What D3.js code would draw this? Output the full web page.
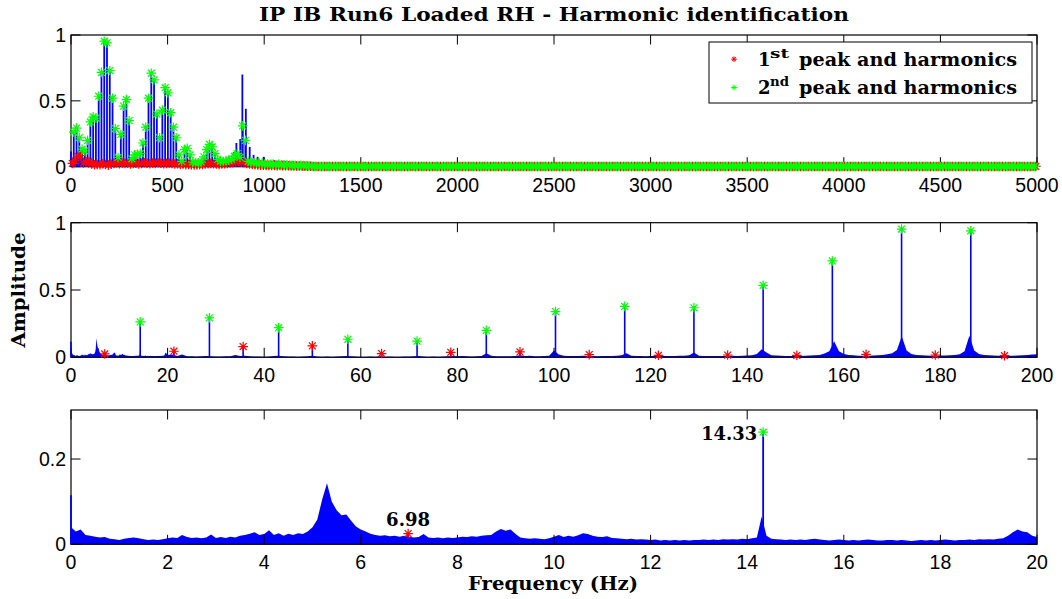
<!DOCTYPE html>
<meta charset="utf-8">
<script src="https://d3js.org/d3.v7.min.js"></script>
<style>
body { margin: 0; background: #fff; }
</style>
<div id="chart"></div>
<script>
// ---------------- data ----------------
const chartTitle = "IP IB Run6 Loaded RH - Harmonic identification";
const firstPeak = 6.98;    // Hz
const secondPeak = 14.33;  // Hz, also the spacing of both families
const maxFreq = 5000;

// 2nd peak and harmonics: n * 14.33 Hz, n = 1..87 (up to ~1250 Hz)
const secondAmp = [
  0.263, 0.293, 0.22, 0.134, 0.12, 0.2, 0.34, 0.378, 0.368, 0.535, 0.716, 0.953, 0.94, 0.73, 0.52, 0.29, 0.07, 0.245, 0.46, 0.51,
  0.35, 0.06, 0.09, 0.095, 0.1, 0.18, 0.3, 0.52, 0.71, 0.66, 0.4, 0.22, 0.43, 0.6, 0.56, 0.41, 0.3, 0.22, 0.09, 0.04,
  0.13, 0.14, 0.09, 0.035, 0.03, 0.03, 0.035, 0.075, 0.13, 0.17, 0.15, 0.1, 0.055, 0.04, 0.04, 0.045, 0.05, 0.055, 0.08, 0.1,
  0.07, 0.31, 0.2, 0.04, 0.035, 0.03, 0.03, 0.025, 0.025, 0.02, 0.02, 0.018, 0.02, 0.015, 0.018, 0.015, 0.012, 0.015, 0.012, 0.01,
  0.01, 0.008, 0.01, 0.008, 0.006, 0.006, 0.005
];
// 1st peak and harmonics: 6.98 + n * 14.33 Hz, n = 0..86
const firstAmp = [
  0.025, 0.045, 0.08, 0.085, 0.028, 0.037, 0.04, 0.02, 0.015, 0.017, 0.015, 0.022, 0.017, 0.012,
  0.02, 0.025, 0.03, 0.022, 0.028, 0.025, 0.03, 0.02, 0.024, 0.028, 0.02, 0.025, 0.03, 0.026, 0.022, 0.028,
  0.025, 0.03, 0.027, 0.022, 0.025, 0.028, 0.024, 0.02, 0.022, 0.018, 0.02, 0.016, 0.018, 0.015, 0.014, 0.016,
  0.015, 0.018, 0.02, 0.022, 0.025, 0.022, 0.02, 0.018, 0.02, 0.022, 0.025, 0.028, 0.03, 0.035, 0.038, 0.035,
  0.03, 0.025, 0.02, 0.018, 0.015, 0.014, 0.012, 0.012, 0.01, 0.01, 0.009, 0.01, 0.008, 0.009, 0.008, 0.007,
  0.007, 0.006, 0.006, 0.005, 0.005, 0.004, 0.004, 0.003, 0.003
];
// every identified harmonic above ~1250 Hz lies on the zero line
const tailAmp = 0.002;

// spectrum noise floor, 0..20 Hz every 0.1 Hz
const floorLowStep = 0.1;
const floorLow = [
  0.04, 0.03, 0.035, 0.022, 0.02, 0.018, 0.016, 0.017, 0.013, 0.012,
  0.01, 0.013, 0.015, 0.016, 0.014, 0.012, 0.01, 0.011, 0.01, 0.012,
  0.014, 0.016, 0.015, 0.022, 0.017, 0.015, 0.016, 0.014, 0.016, 0.023,
  0.015, 0.017, 0.015, 0.018, 0.016, 0.02, 0.022, 0.025, 0.028, 0.022,
  0.024, 0.033, 0.022, 0.026, 0.02, 0.025, 0.022, 0.026, 0.024, 0.03,
  0.04, 0.058, 0.105, 0.143, 0.1, 0.08, 0.068, 0.07, 0.055, 0.042,
  0.035, 0.03, 0.025, 0.022, 0.02, 0.021, 0.019, 0.02, 0.018, 0.02,
  0.018, 0.016, 0.017, 0.024, 0.016, 0.015, 0.016, 0.014, 0.016, 0.015,
  0.016, 0.018, 0.017, 0.019, 0.018, 0.02, 0.021, 0.022, 0.03, 0.036,
  0.032, 0.035, 0.025, 0.016, 0.014, 0.013, 0.014, 0.013, 0.012, 0.014,
  0.018, 0.022, 0.017, 0.02, 0.018, 0.021, 0.026, 0.024, 0.02, 0.018,
  0.017, 0.019, 0.015, 0.014, 0.013, 0.012, 0.013, 0.011, 0.012, 0.011,
  0.01, 0.011, 0.009, 0.01, 0.009, 0.01, 0.009, 0.01, 0.009, 0.01,
  0.01, 0.011, 0.01, 0.011, 0.01, 0.012, 0.011, 0.012, 0.011, 0.013,
  0.012, 0.014, 0.016, 0.065, 0.02, 0.013, 0.012, 0.011, 0.01, 0.011,
  0.01, 0.011, 0.01, 0.012, 0.013, 0.011, 0.01, 0.009, 0.01, 0.011,
  0.01, 0.009, 0.01, 0.009, 0.01, 0.011, 0.01, 0.009, 0.009, 0.01,
  0.01, 0.009, 0.01, 0.009, 0.008, 0.009, 0.01, 0.009, 0.01, 0.009,
  0.01, 0.011, 0.01, 0.009, 0.01, 0.01, 0.011, 0.01, 0.012, 0.011,
  0.012, 0.011, 0.013, 0.014, 0.02, 0.028, 0.035, 0.03, 0.028, 0.02,
  0.017
];
// noise floor 21..200 Hz every 1 Hz
const floorMidStart = 21;
const floorMid = [
  0.02, 0.01, 0.02, 0.008, 0.007, 0.006, 0.007, 0.01, 0.007, 0.006,
  0.006, 0.007, 0.008, 0.017, 0.01, 0.012, 0.007, 0.006, 0.006, 0.005,
  0.006, 0.01, 0.012, 0.008, 0.006, 0.006, 0.005, 0.006, 0.007, 0.012,
  0.006, 0.005, 0.006, 0.005, 0.006, 0.007, 0.01, 0.008, 0.006, 0.005,
  0.005, 0.006, 0.005, 0.008, 0.005, 0.006, 0.005, 0.005, 0.006, 0.006,
  0.008, 0.01, 0.006, 0.005, 0.006, 0.005, 0.006, 0.007, 0.01, 0.008,
  0.01, 0.007, 0.006, 0.007, 0.01, 0.03, 0.012, 0.008, 0.007, 0.007,
  0.008, 0.01, 0.015, 0.01, 0.012, 0.008, 0.008, 0.01, 0.012, 0.05,
  0.02, 0.012, 0.01, 0.009, 0.01, 0.012, 0.01, 0.009, 0.008, 0.01,
  0.009, 0.01, 0.012, 0.016, 0.03, 0.012, 0.01, 0.009, 0.008, 0.009,
  0.01, 0.009, 0.009, 0.01, 0.01, 0.011, 0.012, 0.016, 0.035, 0.012,
  0.01, 0.009, 0.009, 0.01, 0.01, 0.012, 0.011, 0.01, 0.012, 0.013,
  0.015, 0.025, 0.06, 0.035, 0.016, 0.013, 0.012, 0.01, 0.01, 0.011,
  0.01, 0.012, 0.013, 0.015, 0.018, 0.028, 0.045, 0.12, 0.045, 0.025,
  0.018, 0.015, 0.012, 0.011, 0.012, 0.014, 0.016, 0.018, 0.022, 0.03,
  0.055, 0.157, 0.05, 0.025, 0.018, 0.016, 0.014, 0.012, 0.012, 0.013,
  0.014, 0.016, 0.018, 0.022, 0.045, 0.16, 0.05, 0.025, 0.018, 0.016,
  0.014, 0.012, 0.012, 0.011, 0.012, 0.014, 0.016, 0.018, 0.02, 0.022
];
// noise floor 210..1250 Hz every 10 Hz
const floorHighStart = 210, floorHighStep = 10;
const floorHigh = [
  0.012, 0.01, 0.014, 0.012, 0.01, 0.013, 0.011, 0.012, 0.01, 0.014,
  0.012, 0.011, 0.013, 0.01, 0.012, 0.014, 0.011, 0.012, 0.01, 0.013,
  0.012, 0.01, 0.011, 0.013, 0.012, 0.01, 0.011, 0.012, 0.01, 0.011,
  0.012, 0.01, 0.011, 0.009, 0.01, 0.012, 0.011, 0.01, 0.009, 0.011,
  0.01, 0.012, 0.011, 0.01, 0.012, 0.013, 0.011, 0.012, 0.01, 0.011,
  0.012, 0.014, 0.016, 0.015, 0.018, 0.02, 0.016, 0.018, 0.015, 0.013,
  0.012, 0.014, 0.015, 0.016, 0.015, 0.018, 0.016, 0.02, 0.022, 0.02,
  0.018, 0.016, 0.014, 0.015, 0.013, 0.012, 0.014, 0.012, 0.013, 0.011,
  0.01, 0.012, 0.01, 0.009, 0.011, 0.01, 0.009, 0.01, 0.008, 0.009,
  0.008, 0.009, 0.008, 0.007, 0.008, 0.007, 0.006, 0.007, 0.006, 0.006,
  0.005, 0.006, 0.005, 0.004, 0.004
];
// other spectral lines without a marker [Hz, amplitude]
const otherPeaks = [
  [0, 0.115], [818, 0.076], [842, 0.11], [856, 0.18], [876, 0.21], [887, 0.70], [905, 0.44],
  [925, 0.15], [945, 0.09], [966, 0.075], [997, 0.075], [1050, 0.05], [1064, 0.04],
  [1100, 0.045], [1185, 0.03], [1230, 0.02]
];

// axis ticks
const xTicksTop = [0, 500, 1000, 1500, 2000, 2500, 3000, 3500, 4000, 4500, 5000];
const xTicksMid = [0, 20, 40, 60, 80, 100, 120, 140, 160, 180, 200];
const xTicksLow = [0, 2, 4, 6, 8, 10, 12, 14, 16, 18, 20];
const yTicksFull = [0, 0.5, 1];
const yTicksLow = [0, 0.2];

const legendLabels = [
  {num: "1", sup: "st", rest: "peak and harmonics", color: "#ff0000"},
  {num: "2", sup: "nd", rest: "peak and harmonics", color: "#00ff00"}
];

// ---------------- build series ----------------
const secondMarks = [], firstMarks = [];
for (let n = 1; n * secondPeak <= maxFreq; n++) {
  secondMarks.push({f: n * secondPeak, a: n <= secondAmp.length ? secondAmp[n - 1] : tailAmp, tail: n > secondAmp.length});
}
for (let n = 0; firstPeak + n * secondPeak <= maxFreq; n++) {
  firstMarks.push({f: firstPeak + n * secondPeak, a: n < firstAmp.length ? firstAmp[n] : tailAmp, tail: n >= firstAmp.length});
}
const floorPts = [
  ...floorLow.map((a, i) => ({f: i * floorLowStep, a})),
  ...floorMid.map((a, i) => ({f: floorMidStart + i, a})),
  ...floorHigh.map((a, i) => ({f: floorHighStart + i * floorHighStep, a}))
];
const spikes = [
  ...secondMarks.filter(d => !d.tail),
  ...firstMarks.filter(d => !d.tail),
  ...otherPeaks.map(d => ({f: d[0], a: d[1]}))
];

// ---------------- drawing ----------------
const W = 1062, H = 599;
const left = 71, right = 1037, tickLen = 9.5;
const serif = "'DejaVu Serif', serif";
const sans = "'Liberation Sans', Arial, sans-serif";

const svg = d3.select("#chart").append("svg")
  .attr("width", W).attr("height", H);

function star(r) {
  const q = r * 0.72;
  return `M${-r},0H${r}M0,${-r}V${r}M${-q},${-q}L${q},${q}M${-q},${q}L${q},${-q}`;
}

const panels = [
  {domain: [0, 5000], yMax: 1, top: 35, bottom: 166.7, xTicks: xTicksTop, yTicks: yTicksFull, spikeW: 1.8},
  {domain: [0, 200], yMax: 1, top: 222.7, bottom: 357.3, xTicks: xTicksMid, yTicks: yTicksFull, spikeW: 1.6},
  {domain: [0, 20], yMax: 0.315, top: 410, bottom: 544.3, xTicks: xTicksLow, yTicks: yTicksLow, spikeW: 1.8}
];

panels.forEach((p, idx) => {
  const x = d3.scaleLinear().domain(p.domain).range([left, right]);
  const y = d3.scaleLinear().domain([0, p.yMax]).range([p.bottom, p.top]);
  const g = svg.append("g");
  const inX = d => d.f >= p.domain[0] && d.f <= p.domain[1];

  // noise floor of the spectrum
  const area = d3.area().x(d => x(d.f)).y0(y(0)).y1(d => y(d.a));
  g.append("path")
    .datum(floorPts.filter(inX))
    .attr("d", area)
    .attr("fill", "#0000ff");

  // axes box
  g.append("rect")
    .attr("x", left).attr("y", p.top)
    .attr("width", right - left).attr("height", p.bottom - p.top)
    .attr("fill", "none").attr("stroke", "#000").attr("stroke-width", 1.2);

  // ticks pointing inward, on all four sides
  p.xTicks.forEach(t => {
    g.append("line").attr("x1", x(t)).attr("x2", x(t)).attr("y1", p.bottom).attr("y2", p.bottom - tickLen)
      .attr("stroke", "#000").attr("stroke-width", 1);
    g.append("line").attr("x1", x(t)).attr("x2", x(t)).attr("y1", p.top).attr("y2", p.top + tickLen)
      .attr("stroke", "#000").attr("stroke-width", 1);
    g.append("text").attr("x", x(t)).attr("y", p.bottom + 25)
      .attr("text-anchor", "middle").attr("font-family", sans).attr("font-size", 19.5)
      .text(t);
  });
  p.yTicks.forEach(t => {
    g.append("line").attr("x1", left).attr("x2", left + tickLen).attr("y1", y(t)).attr("y2", y(t))
      .attr("stroke", "#000").attr("stroke-width", 1);
    g.append("line").attr("x1", right).attr("x2", right - tickLen).attr("y1", y(t)).attr("y2", y(t))
      .attr("stroke", "#000").attr("stroke-width", 1);
    g.append("text").attr("x", left - 5).attr("y", y(t)).attr("dy", "0.36em")
      .attr("text-anchor", "end").attr("font-family", sans).attr("font-size", 19.5)
      .text(d3.format("~g")(t));
  });

  // spectral lines
  g.append("g").selectAll("line")
    .data(spikes.filter(inX))
    .join("line")
    .attr("x1", d => x(d.f)).attr("x2", d => x(d.f))
    .attr("y1", y(0)).attr("y2", d => y(d.a))
    .attr("stroke", "#0000ff").attr("stroke-width", p.spikeW);

  // markers: 1st family (red) under 2nd family (green)
  [[firstMarks, "#ff0000"], [secondMarks, "#00ff00"]].forEach(([marks, col]) => {
    g.append("g").selectAll("path")
      .data(marks.filter(inX))
      .join("path")
      .attr("transform", d => `translate(${x(d.f)},${y(d.a)})`)
      .attr("d", star(4.8))
      .attr("fill", "none").attr("stroke", col).attr("stroke-width", 1.2);
  });

  if (idx === 2) {
    // annotate the two fundamental peaks
    const m1 = firstMarks[0], m2 = secondMarks[0];
    g.append("text").attr("x", x(m1.f)).attr("y", y(m1.a) - 8)
      .attr("text-anchor", "middle").attr("font-family", serif).attr("font-weight", "bold")
      .attr("font-size", 18).attr("textLength", 44).attr("lengthAdjust", "spacingAndGlyphs")
      .text(m1.f.toFixed(2));
    g.append("text").attr("x", x(m2.f) - 6).attr("y", y(m2.a) + 8)
      .attr("text-anchor", "end").attr("font-family", serif).attr("font-weight", "bold")
      .attr("font-size", 18).attr("textLength", 56).attr("lengthAdjust", "spacingAndGlyphs")
      .text(m2.f.toFixed(2));
  }
});

// title and axis labels
svg.append("text").attr("x", 554).attr("y", 21)
  .attr("text-anchor", "middle").attr("font-family", serif).attr("font-weight", "bold")
  .attr("font-size", 19).attr("textLength", 590).attr("lengthAdjust", "spacingAndGlyphs")
  .text(chartTitle);
svg.append("text").attr("x", 553).attr("y", 590)
  .attr("text-anchor", "middle").attr("font-family", serif).attr("font-weight", "bold")
  .attr("font-size", 18).attr("textLength", 170).attr("lengthAdjust", "spacingAndGlyphs")
  .text("Frequency (Hz)");
svg.append("text").attr("transform", "translate(25,290) rotate(-90)")
  .attr("text-anchor", "middle").attr("font-family", serif).attr("font-weight", "bold")
  .attr("font-size", 18).attr("textLength", 115).attr("lengthAdjust", "spacingAndGlyphs")
  .text("Amplitude");

// legend
const lg = svg.append("g");
lg.append("rect").attr("x", 709).attr("y", 42).attr("width", 323).attr("height", 61)
  .attr("fill", "#fff").attr("stroke", "#000").attr("stroke-width", 1);
legendLabels.forEach((d, i) => {
  const base = 66 + i * 28.3;
  lg.append("path").attr("transform", `translate(734,${base - 6.8})`)
    .attr("d", star(2.8)).attr("fill", "none").attr("stroke", d.color).attr("stroke-width", 1);
  lg.append("text").attr("x", 758).attr("y", base)
    .attr("font-family", serif).attr("font-weight", "bold").attr("font-size", 18)
    .text(d.num);
  lg.append("text").attr("x", 770).attr("y", base - 8)
    .attr("font-family", serif).attr("font-weight", "bold").attr("font-size", 13)
    .attr("textLength", 19).attr("lengthAdjust", "spacingAndGlyphs")
    .text(d.sup);
  lg.append("text").attr("x", 799).attr("y", base)
    .attr("font-family", serif).attr("font-weight", "bold").attr("font-size", 18)
    .attr("textLength", 218).attr("lengthAdjust", "spacingAndGlyphs")
    .text(d.rest);
});
</script>
